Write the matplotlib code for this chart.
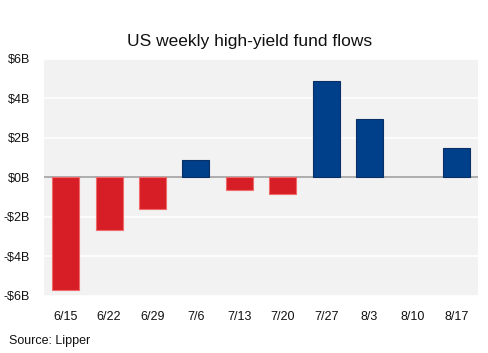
import matplotlib
matplotlib.use("Agg")
import matplotlib.pyplot as plt

# weekly flows in $B
weeks = ["6/15", "6/22", "6/29", "7/6", "7/13", "7/20", "7/27", "8/3", "8/10", "8/17"]
flows = [-5.7, -2.65, -1.6, 0.9, -0.62, -0.86, 4.86, 2.95, 0.0, 1.48]
yticks = [-6, -4, -2, 0, 2, 4, 6]
ytick_labels = ["-$6B", "-$4B", "-$2B", "$0B", "$2B", "$4B", "$6B"]

plt.rcParams["font.family"] = ["Liberation Sans", "DejaVu Sans"]

C_RED = "#d71e26"
C_BLUE = "#00408a"
C_BG = "#f2f2f2"

fig = plt.figure(figsize=(4.88, 3.53), dpi=100)
ax = fig.add_axes([0.0902, 0.1615, 0.8893, 0.6715])
ax.set_facecolor(C_BG)

colors = [C_BLUE if v > 0 else C_RED for v in flows]
edges = ["#0a2f66" if v > 0 else ("#f06a6a" if v < 0 else "none") for v in flows]
ax.bar(range(len(weeks)), flows, width=0.62, color=colors, edgecolor=edges,
       linewidth=0.8, zorder=3)

ax.set_xlim(-0.5, len(weeks) - 0.5)
ax.set_ylim(-6, 6)
ax.set_yticks(yticks)
ax.set_yticklabels(ytick_labels)
ax.set_xticks(range(len(weeks)))
ax.set_xticklabels(weeks)
ax.yaxis.grid(True, color="white", lw=1.2, zorder=1)
ax.axhline(0, color="#a0a0a0", lw=1.2, zorder=2)
for s in ax.spines.values():
    s.set_visible(False)
ax.tick_params(length=0, labelsize=9, colors="#111111")
ax.tick_params(axis="x", pad=11)
ax.tick_params(axis="y", pad=10)

fig.text(0.512, 0.87, "US weekly high-yield fund flows", ha="center",
         fontsize=12.5, color="#111111")
fig.text(0.018, 0.025, "Source: Lipper", ha="left", fontsize=9, color="#111111")

fig.savefig("out.png", dpi=100)
